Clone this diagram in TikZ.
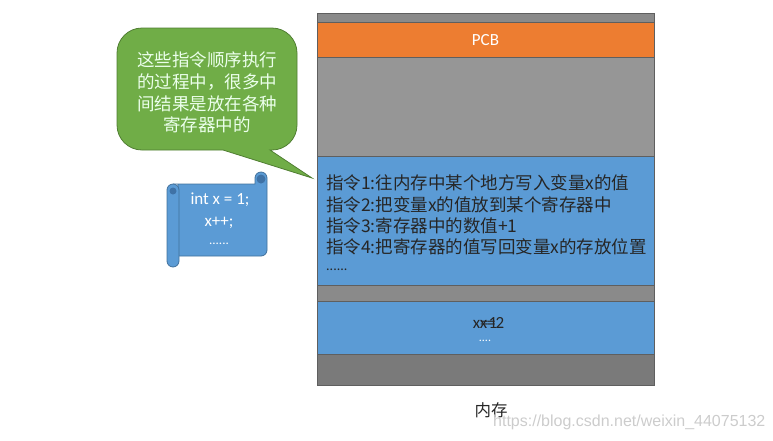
\documentclass[tikz,border=0pt]{standalone}
\usepackage{fontspec}
\setmainfont{Carlito}
\newfontfamily\cjk{Noto Sans CJK SC}
\newfontfamily\wmfont{Liberation Sans}
\definecolor{pcborange}{HTML}{ED7D31}
\definecolor{memblue}{HTML}{5B9BD5}
\definecolor{memgray}{HTML}{969696}
\definecolor{memdark}{HTML}{7A7A7A}
\definecolor{memedge}{HTML}{5F5F5F}
\definecolor{notegreen}{HTML}{70AD47}
\definecolor{noteedge}{HTML}{507E32}
\definecolor{scrolledge}{HTML}{41719C}
\definecolor{scrollshade}{HTML}{3F72A6}
\tikzset{
  band/.style={draw=memedge, line width=0.6pt},
  bubble/.style={fill=notegreen, draw=noteedge, line width=0.8pt},
  scrollpart/.style={fill=memblue, draw=scrolledge, line width=0.8pt},
  lighttext/.style={text=white, inner sep=0pt},
  darktext/.style={text=black!85, inner sep=0pt},
}
\begin{document}
\begin{tikzpicture}[x=1pt,y=-1pt]
\useasboundingbox (0,0) rectangle (773,440);
% memory column
\filldraw[band, fill=memgray!92!black] (317,13) rectangle (654,22);
\filldraw[band, fill=pcborange] (317,22) rectangle (654,57);
\filldraw[band, fill=memgray] (317,57) rectangle (654,156);
\filldraw[band, fill=memblue] (317,156) rectangle (654,285);
\filldraw[band, fill=memgray!92!black] (317,285) rectangle (654,301);
\filldraw[band, fill=memblue] (317,301) rectangle (654,354);
\filldraw[band, fill=memdark] (317,354) rectangle (654,385);
\node[lighttext, font=\fontsize{17}{20}\selectfont] (pcb) at (485.5,40) {PCB};
\node[darktext, anchor=west, align=left, font=\cjk\fontsize{17.5}{21.3}\selectfont] (steps) at (326,215)
  {指令1:往内存中某个地方写入变量x的值\\
   指令2:把变量x的值放到某个寄存器中\\
   指令3:寄存器中的数值+1\\
   指令4:把寄存器的值写回变量x的存放位置};
\node[darktext, anchor=west, font=\fontsize{14}{16}\selectfont] (more) at (326,270) {......};
\node[darktext, font=\fontsize{17}{20}\selectfont] (xone) at (485,323) {x=1};
\node[darktext, font=\fontsize{17}{20}\selectfont] (xtwo) at (492,323) {x=2};
\node[lighttext, font=\fontsize{12}{14}\selectfont] (rest) at (485,341) {....};
\node[darktext, font=\cjk\fontsize{16.5}{20}\selectfont] (mem) at (491,410) {内存};
% callout
\draw[bubble] (223,150) [rounded corners=25] -- (117,150) -- (117,28) -- (297,28) -- (297,150)
  [sharp corners] -- (270,150) -- (312,178) -- cycle;
\node[lighttext, text=white!92!green, align=center, font=\cjk\fontsize{17.5}{21.7}\selectfont] (note) at (207,92.5)
  {这些指令顺序执行\\的过程中，很多中\\间结果是放在各种\\寄存器中的};
% code scroll
\draw[scrollpart] (173,184) -- (255,184) -- (255,178) arc[start angle=180, end angle=360, radius=6]
  -- (267,250) arc[start angle=0, end angle=90, radius=6] -- (178,256) -- (178,184) -- cycle;
\fill[scrollshade] (261,179) circle (4.5);
\draw[scrollpart] (167,190) arc[start angle=180, end angle=360, radius=6]
  -- (179,261) arc[start angle=0, end angle=180, radius=6] -- cycle;
\fill[scrollshade] (173,191) circle (3.5);
\node[lighttext, font=\fontsize{17}{20}\selectfont] (decl) at (220,200) {int x = 1;};
\node[lighttext, font=\fontsize{17}{20}\selectfont] (incr) at (219,223) {x++;};
\node[lighttext, font=\fontsize{13}{16}\selectfont] (etc) at (219,244) {......};
% watermark
\node[text=black!20, inner sep=0pt, anchor=west, font=\wmfont\fontsize{16}{18}\selectfont] (wm) at (493,422)
  {https://blog.csdn.net/weixin\_44075132};
\end{tikzpicture}
\end{document}
